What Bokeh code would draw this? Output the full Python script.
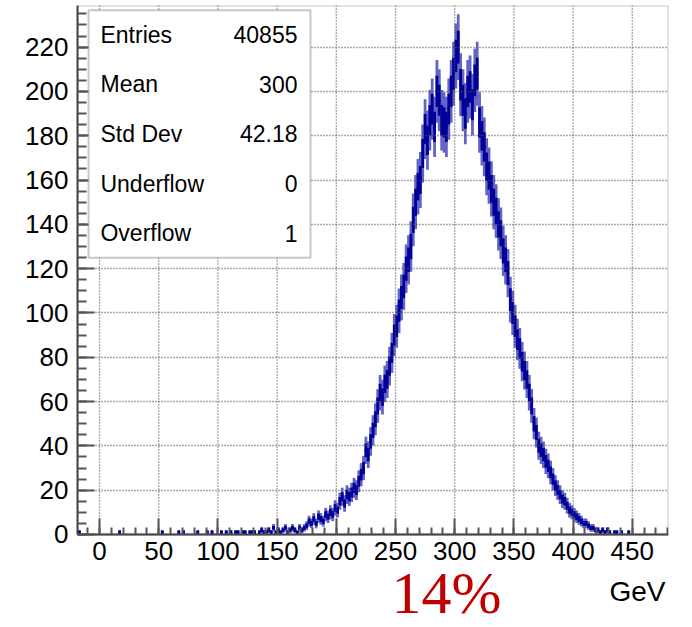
import numpy as np
from bokeh.plotting import figure
from bokeh.models import BoxAnnotation, Label, FixedTicker, Range1d, ColumnDataSource
from bokeh.embed import file_html
from bokeh.resources import INLINE

# ---------------- data ----------------
bin_width = 2.0
bin_start = 100.0
# counts per bin, 2 GeV bins from 100 to 450 GeV (5 values per 10 GeV)
counts = [
    0, 1, 0, 1, 0,          # 100-110
    1, 0, 1, 1, 0,          # 110-120
    1, 1, 0, 1, 1,          # 120-130
    1, 0, 1, 2, 1,          # 130-140
    1, 2, 1, 3, 1,          # 140-150
    2, 1, 2, 3, 1,          # 150-160
    2, 3, 2, 1, 3,          # 160-170
    2, 3, 4, 6, 5,          # 170-180
    7, 5, 8, 7, 6,          # 180-190
    9, 8, 10, 9, 12,        # 190-200
    11, 15, 17, 14, 18,     # 200-210
    17, 19, 21, 20, 24,     # 210-220
    27, 30, 38, 36, 42,     # 220-230
    47, 52, 58, 64, 62,     # 230-240
    68, 70, 76, 82, 90,     # 240-250
    94, 101, 107, 112, 120, # 250-260
    124, 130, 142, 150, 157,# 260-270
    160, 172, 183, 178, 187,# 270-280
    192, 184, 200, 196, 187,# 280-290
    186, 184, 192, 200, 208,# 290-300
    216, 220, 203, 196, 190,# 300-310
    200, 202, 194, 205, 208,# 310-320
    186, 180, 175, 166, 162,# 320-330
    156, 150, 146, 140, 136,# 330-340
    128, 124, 118, 106, 100,# 340-350
    94, 88, 84, 78, 74,     # 350-360
    70, 64, 58, 50, 46,     # 360-370
    40, 38, 36, 33, 31,     # 370-380
    28, 25, 22, 20, 18,     # 380-390
    16, 15, 13, 11, 10,     # 390-400
    9, 8, 7, 6, 5,          # 400-410
    5, 4, 3, 3, 2,          # 410-420
    2, 1, 2, 1, 2,          # 420-430
    1, 0, 1, 1, 0,          # 430-440
    1, 0, 0, 1, 0,          # 440-450
]
# isolated single-entry bins at low energy
sparse_left = [-18, 16, 52, 66, 70, 82, 90, 94]
sparse_counts = [1, 1, 1, 1, 1, 1, 1, 1]

x_ticks = [0, 50, 100, 150, 200, 250, 300, 350, 400, 450]
y_ticks = [0, 20, 40, 60, 80, 100, 120, 140, 160, 180, 200, 220]
x_minor = list(range(-10, 481, 10))
y_minor = list(range(0, 240, 5))

stat_names = ["Entries", "Mean", "Std Dev", "Underflow", "Overflow"]
stat_values = ["40855", "300", "42.18", "0", "1"]

x_label = "GeV"
note_text = "14%"

# ---------------- build histogram segments ----------------
lefts = [bin_start + bin_width * i for i in range(len(counts))] + list(sparse_left)
vals = list(counts) + list(sparse_counts)
lefts = np.array(lefts, dtype=float)
vals = np.array(vals, dtype=float)
keep = vals > 0
lefts = lefts[keep]
vals = vals[keep]
errs = np.sqrt(vals)
centers = lefts + bin_width / 2

src = ColumnDataSource(dict(
    xc=centers, x0=lefts, x1=lefts + bin_width,
    y=vals, ylo=vals - errs, yhi=vals + errs,
    ylo2=vals - 0.5 * errs, yhi2=vals + 0.5 * errs,
))

Y_TOP = 238.8
Y_BOTTOM = -42.0   # room below the axis for tick labels and notes
X0, X1 = -18.6, 480.6

p = figure(width=692, height=627, output_backend="svg", toolbar_location=None,
           x_range=Range1d(X0, X1), y_range=Range1d(Y_BOTTOM, Y_TOP),
           min_border_left=77, min_border_right=24, min_border_top=5,
           min_border_bottom=0)
p.background_fill_color = "white"
p.border_fill_color = "white"
p.outline_line_color = None

navy = "#000099"
# error bars: light outer part, dense dark core
p.segment(x0="xc", x1="xc", y0="ylo", y1="yhi", source=src,
          line_color="#6464c2", line_width=2.8)
p.segment(x0="xc", x1="xc", y0="ylo2", y1="yhi2", source=src,
          line_color=navy, line_width=2.8)
p.segment(x0="x0", x1="x1", y0="y", y1="y", source=src,
          line_color=navy, line_width=3.5)

# vertical dotted grid lines limited to the histogram area
p.segment(x0=x_ticks, x1=x_ticks, y0=[0] * len(x_ticks), y1=[Y_TOP] * len(x_ticks),
          line_color="#555555", line_width=1.3, line_dash="1 2")

# axes
xa, ya = p.xaxis[0], p.yaxis[0]
for ax, ticks, minor in ((xa, x_ticks, x_minor), (ya, y_ticks, y_minor)):
    ax.ticker = FixedTicker(ticks=ticks, minor_ticks=minor)
    ax.major_label_text_font = "Liberation Sans"
    ax.major_label_text_font_size = "26px"
    ax.major_label_text_color = "black"
    ax.axis_line_color = "#444444"
    ax.axis_line_width = 2
    ax.major_tick_line_color = "#555555"
    ax.major_tick_line_width = 2
    ax.minor_tick_line_color = "#555555"
    ax.minor_tick_line_width = 2
    ax.major_tick_out = 0
    ax.minor_tick_out = 0
xa.fixed_location = 0
ya.bounds = (0, Y_TOP)
xa.major_tick_in = 16
xa.minor_tick_in = 7
ya.major_tick_in = 17
ya.minor_tick_in = 9
xa.major_label_standoff = 8
ya.major_label_standoff = 9

# horizontal grid (above the histogram, below the stats box)
p.xgrid.visible = False
g = p.ygrid[0]
g.ticker = FixedTicker(ticks=y_ticks)
g.grid_line_color = "#555555"
g.grid_line_width = 1.3
g.grid_line_dash = "1 2"
g.level = "annotation"

# frame border around the histogram area
frame_box = BoxAnnotation(bottom=0, fill_alpha=0, line_color="#444444",
                          line_width=2, level="annotation")
p.add_layout(frame_box)

# stats box
box_l, box_r, box_b, box_t = -9.3, 178.2, 124.9, 236.7
box = BoxAnnotation(left=box_l, right=box_r, bottom=box_b, top=box_t,
                    fill_color="white", fill_alpha=1.0,
                    line_color="#444444", line_width=2, level="annotation")
p.add_layout(box)
row_h = (box_t - box_b) / len(stat_names)
for i, (n, v) in enumerate(zip(stat_names, stat_values)):
    yy = box_t - (i + 0.5) * row_h
    p.add_layout(Label(x=0.8, y=yy, text=n, text_font="Liberation Sans",
                       text_font_size="23px", text_baseline="middle",
                       text_align="left", text_color="black"))
    p.add_layout(Label(x=167.2, y=yy, text=v, text_font="Liberation Sans",
                       text_font_size="23px", text_baseline="middle",
                       text_align="right", text_color="black"))

p.add_layout(Label(x=478, y=-25.7, text=x_label, text_font="Liberation Sans",
                   text_font_size="28px", text_align="right",
                   text_baseline="middle", text_color="black"))
p.add_layout(Label(x=293, y=-26.5, text=note_text, text_font="Liberation Serif",
                   text_font_size="60px", text_align="center",
                   text_baseline="middle", text_color="#c00000"))

open("out.html", "w").write(file_html(p, INLINE))
